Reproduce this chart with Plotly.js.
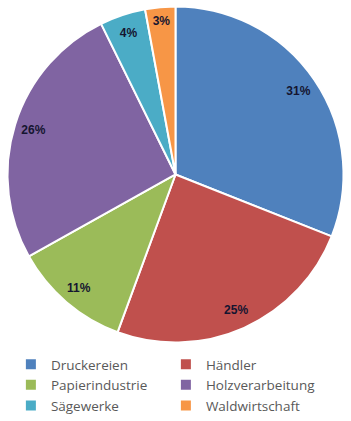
<!DOCTYPE html>
<html>
<head>
<meta charset="utf-8">
<script src="https://cdn.plot.ly/plotly-3.0.1.min.js"></script>
<style>html,body{margin:0;padding:0;background:#fff;}#chart{width:351px;height:421px;}</style>
</head>
<body>
<div id="chart"></div>
<script>
const categories = ["Druckereien", "Händler", "Papierindustrie", "Holzverarbeitung", "Sägewerke", "Waldwirtschaft"];
const values = [31.0, 24.6, 11.3, 25.8, 4.4, 2.9];
const colors = ["#4F81BD", "#C0504D", "#9BBB59", "#8064A2", "#4BACC6", "#F79646"];

const pieDomain = {x: [0.0214, 0.9786], y: [0.1865, 0.9846]};

const data = [{
  type: "pie",
  labels: categories,
  values: values,
  sort: false,
  direction: "clockwise",
  rotation: 0,
  marker: {colors: colors, line: {color: "#ffffff", width: 2}},
  textinfo: "none",
  hoverinfo: "label+percent",
  domain: pieDomain
}, {
  // transparent ring used only to place the percentage labels near the rim
  type: "pie",
  labels: categories,
  values: values,
  sort: false,
  direction: "clockwise",
  rotation: 0,
  hole: 0.77,
  showlegend: false,
  marker: {colors: categories.map(() => "rgba(0,0,0,0)"), line: {width: 0}},
  textinfo: "percent",
  texttemplate: "%{percent:.0%}",
  textposition: "inside",
  insidetextorientation: "horizontal",
  insidetextfont: {family: "Liberation Sans, Arial, sans-serif", size: 12, color: "#151530", weight: "bold"},
  hoverinfo: "skip",
  domain: pieDomain
}];

const layout = {
  width: 351, height: 421,
  margin: {l: 0, r: 0, t: 0, b: 0},
  paper_bgcolor: "#ffffff",
  showlegend: true,
  legend: {
    orientation: "h",
    x: 0.031, xanchor: "left",
    y: 0.0, yanchor: "bottom",
    entrywidth: 110, entrywidthmode: "pixels",
    font: {family: "Open Sans, sans-serif", size: 13.5, color: "#595959"},
    traceorder: "normal"
  }
};

Plotly.newPlot("chart", data, layout, {displayModeBar: false, staticPlot: true});
</script>
</body>
</html>
